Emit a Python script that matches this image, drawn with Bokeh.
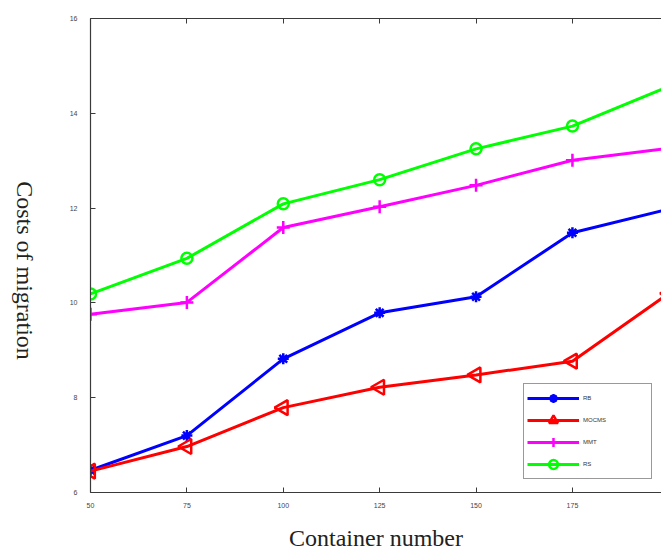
import math
from bokeh.plotting import figure
from bokeh.layouts import row
from bokeh.models import (Range1d, LinearAxis, FixedTicker, Legend, LegendItem,
                          CustomJSTickFormatter)
from bokeh.embed import file_html
from bokeh.resources import INLINE

x_vals = [50, 75, 100, 125, 150, 175, 200]
rb = [6.47, 7.20, 8.82, 9.79, 10.13, 11.48, 11.98]
mocms = [6.45, 6.97, 7.79, 8.22, 8.48, 8.77, 10.20]
mmt = [9.76, 10.01, 11.59, 12.03, 12.48, 13.01, 13.26]
rs = [10.19, 10.94, 12.09, 12.60, 13.25, 13.73, 14.57]
x_ticks = [50, 75, 100, 125, 150, 175, 200]
y_ticks = [6, 8, 10, 12, 14, 16]
x_title = "Container number"
y_title = "Costs of migration"

LEFT_W = 45
H = 553

# narrow strip holding the downward-reading y title
lab = figure(width=LEFT_W, height=H, output_backend="svg", toolbar_location=None,
             x_range=Range1d(0, LEFT_W), y_range=Range1d(H, 0),
             x_axis_location=None, y_axis_location=None,
             min_border_left=0, min_border_right=0, min_border_top=0,
             min_border_bottom=0)
lab.grid.visible = False
lab.outline_line_color = None
lab.text(x=[24.5], y=[294], text=[y_title], angle=-math.pi / 2,
         text_font="Liberation Serif", text_font_size="24px",
         text_color="#222222", text_align="center", text_baseline="middle")

p = figure(width=661 - LEFT_W, height=H, output_backend="svg", toolbar_location=None,
           x_range=Range1d(50, 198.1), y_range=Range1d(6, 16),
           min_border_left=90 - LEFT_W, min_border_right=0, min_border_top=18,
           min_border_bottom=61)
p.grid.visible = False
p.outline_line_color = None
p.background_fill_color = "white"

axis_color = "#3a3a3a"
for ax in [p.xaxis[0], p.yaxis[0]]:
    ax.axis_line_color = axis_color
    ax.axis_line_width = 1.2
    ax.major_tick_line_color = axis_color
    ax.major_tick_in = 5
    ax.major_tick_out = 0
    ax.minor_tick_line_color = None
    ax.major_label_text_font = "Liberation Sans"
    ax.major_label_text_font_size = "7px"
    ax.major_label_text_color = "#444444"
    ax.axis_label_text_font = "Liberation Serif"
    ax.axis_label_text_font_style = "normal"
    ax.axis_label_text_color = "#222222"

p.xaxis[0].ticker = FixedTicker(ticks=x_ticks)
p.xaxis[0].major_label_standoff = 10
p.xaxis[0].axis_label = x_title
p.xaxis[0].axis_label_text_font_size = "24px"
p.xaxis[0].axis_label_standoff = 14

p.yaxis[0].ticker = FixedTicker(ticks=y_ticks)
p.yaxis[0].major_label_standoff = 13

top = LinearAxis(ticker=FixedTicker(ticks=x_ticks),
                 formatter=CustomJSTickFormatter(code="return ''"))
top.axis_line_color = axis_color
top.axis_line_width = 1.2
top.major_tick_line_color = axis_color
top.major_tick_in = 5
top.major_tick_out = 0
top.minor_tick_line_color = None
top.major_label_standoff = 0
p.add_layout(top, "above")

series = [
    ("RB", rb, "#0000ff", "asterisk", 11, 0),
    ("MOCMS", mocms, "#ff0000", "triangle", 15, math.pi / 2),
    ("MMT", mmt, "#ff00ff", "cross", 13, 0),
    ("RS", rs, "#00ff00", "circle", 11, 0),
]
items = []
for name, ys, col, mk, sz, ang in series:
    lr = p.line(x_vals, ys, line_color=col, line_width=3)
    sr = p.scatter(x_vals, ys, marker=mk, size=sz, angle=ang,
                   line_color=col, line_width=2.5, fill_color=None)
    items.append(LegendItem(label=name, renderers=[lr, sr]))

legend = Legend(items=items, location=(433, 13))
legend.border_line_color = "#333333"
legend.border_line_width = 1
legend.background_fill_color = "white"
legend.background_fill_alpha = 1
legend.label_text_font = "Liberation Sans"
legend.label_text_font_size = "6px"
legend.label_text_color = "#333333"
legend.label_text_baseline = "bottom"
legend.glyph_width = 52
legend.glyph_height = 22
legend.label_height = 22
legend.label_width = 65
legend.label_standoff = 4
legend.spacing = 0
legend.padding = 3
legend.margin = 0
p.add_layout(legend, "center")

layout = row(lab, p, spacing=0)
open("out.html", "w").write(file_html(layout, INLINE))
